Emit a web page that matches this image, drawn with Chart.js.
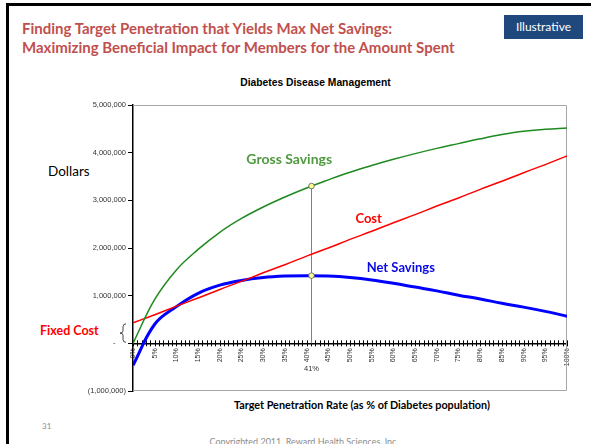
<!DOCTYPE html>
<html>
<head>
<meta charset="utf-8">
<script src="https://cdn.jsdelivr.net/npm/chart.js@4.4.1/dist/chart.umd.min.js"></script>
<style>
  html, body { margin: 0; padding: 0; background: #fff; }
  #slide { position: relative; width: 591px; height: 444px; overflow: hidden; font-family: Lato, sans-serif; }
  #edge { position: absolute; left: 6px; top: 3px; width: 700px; height: 600px; border-left: 3px solid #000; border-top: 3px solid #000; }
  #chart { position: absolute; left: 0; top: 0; }
  .txt { position: absolute; white-space: nowrap; line-height: 1; transform: translateY(-50%); }
  .head { left: 22px; color: #c0504d; font-weight: bold; font-size: 15px; }
  #badge { position: absolute; left: 504px; top: 15px; width: 79px; height: 24px; background: #1f497d;
           color: #fff; font-size: 12px; text-align: center; line-height: 24px; }
</style>
</head>
<body>
<div id="slide">
  <div id="edge"></div>
  <div class="txt head" style="top:28px">Finding Target Penetration that Yields Max Net Savings:</div>
  <div class="txt head" style="top:47px">Maximizing Beneficial Impact for Members for the Amount Spent</div>
  <div id="badge">Illustrative</div>
  <div class="txt" style="left:0;width:631px;text-align:center;top:83px;font-family:'Liberation Sans',Arial;font-weight:bold;font-size:10.3px;color:#000">Diabetes Disease Management</div>
  <div class="txt" style="left:48px;top:172px;font-size:13.5px;color:#000">Dollars</div>
  <div class="txt" style="left:40px;top:331px;font-size:12.5px;font-weight:bold;color:#ff0000">Fixed Cost</div>
  <div class="txt" style="left:234px;top:405px;font-size:10.8px;font-weight:bold;color:#000">Target Penetration Rate (as % of Diabetes population)</div>
  <div class="txt" style="left:42px;top:426px;font-size:8px;color:#8c8c8c">31</div>
  <div class="txt" style="left:0;width:608px;text-align:center;top:441px;font-size:9px;color:#8c8c8c">Copyrighted 2011. Reward Health Sciences, Inc.</div>
  <canvas id="chart" width="591" height="444"></canvas>
</div>
<script>
// penetration rate (%), read every 5%
const pct = [0, 5, 10, 15, 20, 25, 30, 35, 40, 45, 50, 55, 60, 65, 70, 75, 80, 85, 90, 95, 100];

// dollars
const grossSavings = [0, 920000, 1540000, 1970000, 2330000, 2620000, 2860000, 3070000, 3260000, 3430000, 3590000,
                      3730000, 3860000, 3980000, 4090000, 4190000, 4290000, 4380000, 4450000, 4490000, 4520000];
const cost = [430000, 600000, 780000, 950000, 1130000, 1300000, 1480000, 1650000, 1830000, 2000000, 2180000,
              2350000, 2530000, 2700000, 2880000, 3050000, 3230000, 3400000, 3580000, 3750000, 3930000];
const netSavings = [-460000, 400000, 770000, 1050000, 1220000, 1320000, 1380000, 1410000, 1420000, 1410000, 1380000,
                    1330000, 1260000, 1180000, 1100000, 1010000, 930000, 840000, 760000, 670000, 570000];

const yTicks = [-1000000, 0, 1000000, 2000000, 3000000, 4000000, 5000000];

// target penetration marker
const markerPct = 41;
const markerGross = 3300000;
const markerNet = 1420000;

const pts = (vals) => pct.map((p, i) => ({ x: p, y: vals[i] }));

const fmt = (v) => {
    if (v === 0) return '-     ';
    const s = Math.abs(v).toLocaleString('en-US');
    return v < 0 ? '(' + s + ')' : s;
};

const seriesLabels = [
    { text: 'Gross Savings', x: 36, y: 3850000, color: '#4f9a3f', size: 14 },
    { text: 'Cost', x: 54.3, y: 2610000, color: '#ff0000', size: 13 },
    { text: 'Net Savings', x: 61.7, y: 1580000, color: '#0a0ae6', size: 13 }
];

const extras = {
    id: 'extras',
    beforeDatasetsDraw(chart) {
        const { ctx, chartArea: a, scales: { x, y } } = chart;
        const y0 = y.getPixelForValue(0);
        ctx.save();
        // plot frame
        ctx.strokeStyle = '#a6a6a6';
        ctx.lineWidth = 1;
        ctx.beginPath();
        ctx.moveTo(a.left, a.top + 0.5);
        ctx.lineTo(a.right - 0.5, a.top + 0.5);
        ctx.lineTo(a.right - 0.5, a.bottom - 0.5);
        ctx.lineTo(a.left, a.bottom - 0.5);
        ctx.stroke();
        // cross ticks every 1%
        ctx.strokeStyle = '#000';
        ctx.beginPath();
        for (let p = 0; p <= 100; p++) {
            const px = Math.round(x.getPixelForValue(p)) + 0.5;
            ctx.moveTo(px, y0 - 3);
            ctx.lineTo(px, y0 + 3);
        }
        ctx.stroke();
        // marker line
        const mx = Math.round(x.getPixelForValue(markerPct)) + 0.5;
        ctx.strokeStyle = '#808080';
        ctx.beginPath();
        ctx.moveTo(mx, y0);
        ctx.lineTo(mx, y.getPixelForValue(markerGross));
        ctx.stroke();
        // fixed cost brace
        const bTop = y.getPixelForValue(cost[0]) + 1;
        const bBot = y0 - 1;
        const bMid = (bTop + bBot) / 2;
        const bx = a.left - 10;
        ctx.strokeStyle = '#333';
        ctx.lineWidth = 0.9;
        ctx.beginPath();
        ctx.moveTo(bx + 3, bTop);
        ctx.quadraticCurveTo(bx, bTop, bx, bTop + 3);
        ctx.lineTo(bx, bMid - 2);
        ctx.quadraticCurveTo(bx, bMid, bx - 3, bMid);
        ctx.quadraticCurveTo(bx, bMid, bx, bMid + 2);
        ctx.lineTo(bx, bBot - 3);
        ctx.quadraticCurveTo(bx, bBot, bx + 3, bBot);
        ctx.stroke();
        ctx.restore();
    },
    afterDatasetsDraw(chart) {
        const { ctx, scales: { x, y } } = chart;
        const y0 = y.getPixelForValue(0);
        ctx.save();
        const mx = Math.round(x.getPixelForValue(markerPct)) + 0.5;
        [markerGross, markerNet].forEach(v => {
            ctx.beginPath();
            ctx.arc(mx, y.getPixelForValue(v), 2.8, 0, Math.PI * 2);
            ctx.fillStyle = '#ffff99';
            ctx.fill();
            ctx.strokeStyle = '#555';
            ctx.lineWidth = 0.8;
            ctx.stroke();
        });
        ctx.fillStyle = '#333';
        ctx.font = '7.5px "Liberation Sans", Arial';
        ctx.textAlign = 'center';
        ctx.textBaseline = 'middle';
        ctx.fillText(markerPct + '%', mx, y0 + 26);
        seriesLabels.forEach(l => {
            ctx.fillStyle = l.color;
            ctx.font = 'bold ' + l.size + 'px Lato';
            ctx.fillText(l.text, x.getPixelForValue(l.x), y.getPixelForValue(l.y));
        });
        ctx.restore();
    }
};

new Chart(document.getElementById('chart'), {
    type: 'line',
    data: {
        datasets: [
            { label: 'Gross Savings', data: pts(grossSavings), borderColor: '#1f8a1f', borderWidth: 1.5 },
            { label: 'Cost', data: pts(cost), borderColor: '#ff0000', borderWidth: 1.5 },
            { label: 'Net Savings', data: pts(netSavings), borderColor: '#0000ff', borderWidth: 3 }
        ]
    },
    options: {
        responsive: false,
        animation: false,
        events: [],
        layout: { padding: { left: 83, top: 105, right: 24, bottom: 53 } },
        elements: { point: { radius: 0 }, line: { tension: 0.4, fill: false } },
        plugins: { legend: { display: false }, tooltip: { enabled: false } },
        scales: {
            x: {
                type: 'linear',
                min: 0,
                max: 100,
                position: { y: 0 },
                afterFit: (s) => { s.height = 0; },
                grid: { drawOnChartArea: false, drawTicks: false },
                border: { color: '#000', width: 1.5 },
                ticks: {
                    stepSize: 5,
                    autoSkip: false,
                    minRotation: 90,
                    maxRotation: 90,
                    padding: 5,
                    color: '#333',
                    font: { family: '"Liberation Sans", Arial', size: 7 },
                    callback: (v) => v + '%'
                }
            },
            y: {
                min: -1000000,
                max: 5000000,
                afterFit: (s) => { s.width = 50; },
                afterBuildTicks: (s) => { s.ticks = yTicks.map(v => ({ value: v })); },
                grid: { drawOnChartArea: false, drawTicks: true, tickLength: 5, color: '#000' },
                border: { color: '#000', width: 1.5 },
                ticks: {
                    padding: 2,
                    color: '#333',
                    font: { family: '"Liberation Sans", Arial', size: 7.5 },
                    callback: (v) => fmt(v)
                }
            }
        }
    },
    plugins: [extras]
});
</script>
</body>
</html>
